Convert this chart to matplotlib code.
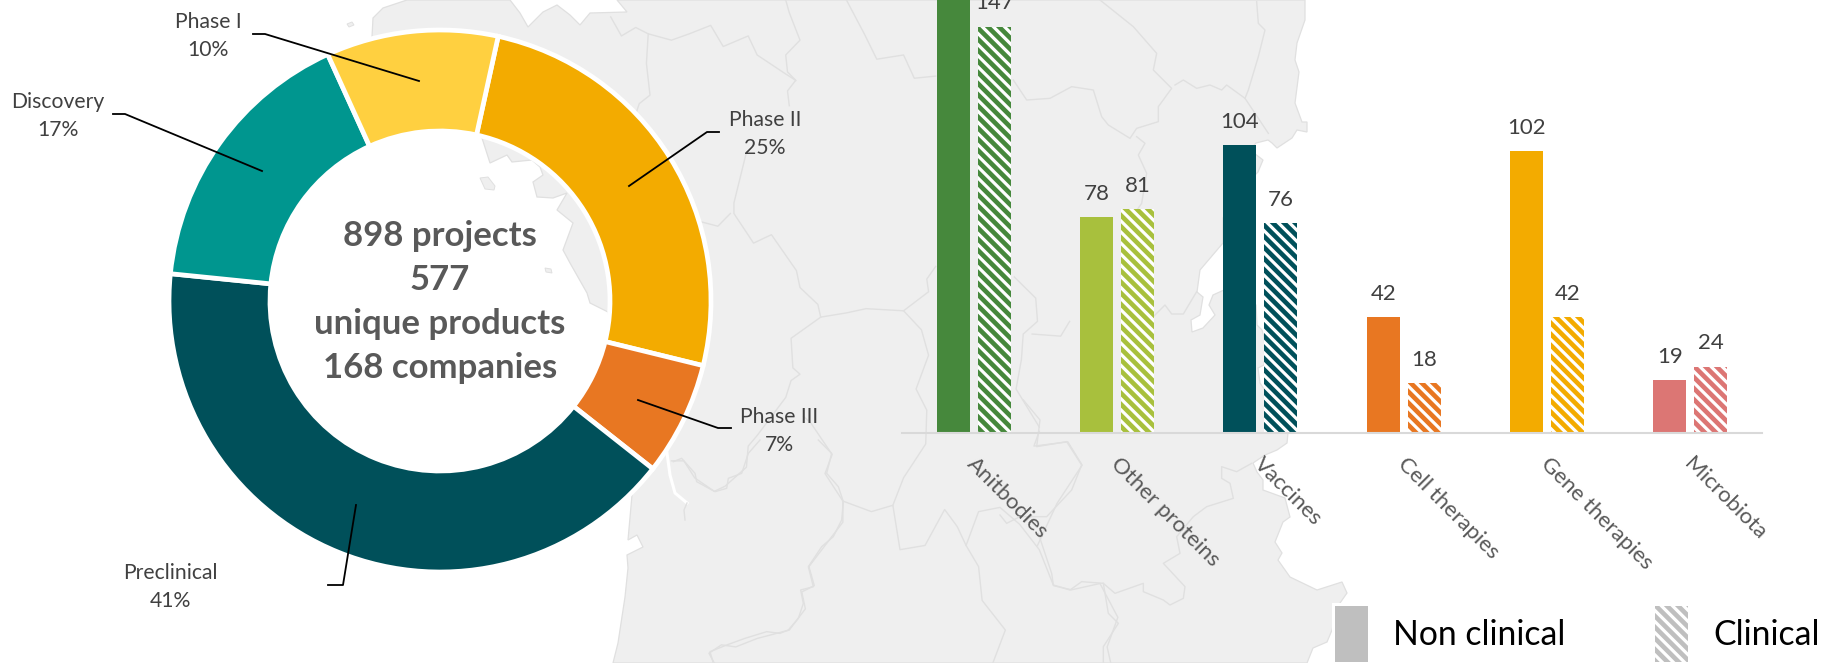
import matplotlib
matplotlib.use("Agg")
import matplotlib.pyplot as plt
from matplotlib.patches import Patch, Polygon
from matplotlib.transforms import ScaledTranslation

# ---------- data ----------
phases = ["Phase II", "Phase III", "Preclinical", "Discovery", "Phase I"]
project_counts = [228, 61, 368, 149, 92]
phase_colors = ["#F3AB00", "#E87722", "#00505A", "#00968F", "#FFD040"]

categories = ["Anitbodies", "Other proteins", "Vaccines", "Cell therapies", "Gene therapies", "Microbiota"]
non_clinical = [172, 78, 104, 42, 102, 19]   # first bar runs off the picture: height estimated
clinical = [147, 81, 76, 18, 42, 24]
category_colors = ["#46883C", "#A8C03D", "#00505A", "#E87722", "#F3AB00", "#DC7674"]
legend_labels = ["Non clinical", "Clinical"]
centre_text = "898 projects\n577\nunique products\n168 companies"

# ---------- page ----------
W, H = 1822, 663
plt.rcParams["font.family"] = ["Lato", "DejaVu Sans"]
plt.rcParams["hatch.linewidth"] = 2.3
fig = plt.figure(figsize=(W / 100, H / 100), dpi=100, facecolor="white")


def px_axes(left, top, right, bottom, **kw):
    return fig.add_axes([left / W, 1 - bottom / H, (right - left) / W, (bottom - top) / H], **kw)


# ---------- decorative map backdrop (pixel space) ----------
bg = px_axes(0, 0, W, H, zorder=0)
bg.set_xlim(0, W)
bg.set_ylim(H, 0)
bg.axis("off")
LAND = "#EFEFEF"
LINE = "#E0E0E0"
land_outline = [
    (372, 37), (373, 18), (383, 8), (407, 0), (510, 0), (520, 13), (528, 27), (543, 12), (557, 5), (570, 15),
    (580, 25), (590, 13), (627, 12), (617, 0), (1305, 0), (1305, 20), (1297, 43), (1295, 60), (1299, 72),
    (1295, 103), (1302, 122), (1307, 122), (1307, 132), (1297, 130), (1292, 138), (1277, 148), (1272, 143),
    (1268, 140), (1256, 143), (1250, 150), (1263, 160), (1258, 172), (1240, 190), (1223, 218), (1223, 243),
    (1200, 270), (1197, 292), (1203, 297), (1200, 315), (1191, 320), (1192, 332), (1203, 328), (1215, 315),
    (1209, 305), (1213, 295), (1224, 290), (1240, 300), (1256, 305), (1257, 325), (1262, 330), (1264, 337),
    (1266, 350), (1264, 365), (1258, 368), (1260, 383), (1266, 392), (1280, 415), (1288, 433), (1287, 443),
    (1277, 450), (1265, 455), (1253, 463), (1257, 472), (1263, 480), (1263, 490), (1285, 498), (1290, 517),
    (1283, 522), (1275, 542), (1282, 553), (1278, 560), (1290, 577), (1317, 590), (1342, 582), (1347, 593),
    (1340, 603), (1332, 630), (1327, 642), (1313, 648), (1307, 663), (613, 663), (618, 643), (625, 597),
    (628, 568), (627, 555), (643, 547), (637, 535), (628, 540), (632, 495), (640, 450), (625, 400), (608, 312),
    (590, 303), (587, 293), (570, 263), (563, 250), (573, 223), (557, 210), (567, 193), (553, 198), (537, 197),
    (533, 182), (543, 175), (540, 167), (532, 160), (512, 162), (507, 155), (490, 163), (482, 138), (440, 100),
]
bg.add_patch(Polygon(land_outline, closed=True, fc=LAND, ec=LINE, lw=0.9))
for isl in ([(480, 178), (488, 177), (495, 186), (494, 190), (485, 189)],
            [(545, 268), (551, 269), (552, 273), (546, 272)],
            [(347, 24), (352, 22), (354, 25), (349, 27)]):
    bg.add_patch(Polygon(isl, closed=True, fc=LAND, ec=LINE, lw=0.7))
bg.plot([667, 670, 675, 687], [453, 475, 493, 503], color="white", lw=2.2, zorder=3)
bg.plot([687, 684, 685], [503, 510, 520], color=LINE, lw=1, zorder=3)


def z10(p):
    return [(600 + x / 2.8, y / 2.365) for x, y in p]


def z3(x0, y0, p):
    return [(x0 + x / 3, y0 + y / 3) for x, y in p]


borders = [
    z10([(30, 40), (60, 85), (100, 65), (135, 80), (200, 95), (250, 80), (310, 60), (345, 110), (415, 85), (440, 130),
         (520, 175), (548, 190), (525, 215), (530, 250)]),
    z10([(520, 0), (530, 30), (560, 95), (520, 130), (525, 170), (548, 190)]),
    z10([(135, 80), (130, 150), (140, 225), (110, 245), (100, 270)]),
    z10([(410, 360), (375, 480), (375, 505), (430, 575), (480, 555), (550, 640), (560, 680), (610, 720), (618, 750),
         (690, 740), (745, 730), (850, 735), (920, 690), (915, 660), (940, 630)]),
    z10([(285, 525), (330, 535), (365, 505)]),
    z10([(618, 750), (535, 800), (540, 870), (560, 885), (535, 900), (520, 940), (440, 1030), (415, 1055), (410, 1105),
         (350, 1150), (320, 1162), (265, 1130), (235, 1090), (200, 1090)]),
    z10([(570, 985), (590, 1000), (650, 1075), (630, 1120), (680, 1185), (760, 1210), (820, 1195), (840, 1300),
         (910, 1290), (965, 1205), (1000, 1245), (1025, 1290), (1060, 1210), (1120, 1200), (1175, 1240), (1230, 1300),
         (1270, 1385), (1320, 1395), (1400, 1380), (1450, 1460), (1420, 1530), (1430, 1568)]),
    z10([(680, 1185), (680, 1235), (585, 1340), (600, 1385), (565, 1400), (575, 1440), (530, 1490), (440, 1510),
         (380, 1530), (340, 1525), (305, 1545), (320, 1568)]),
    z10([(850, 735), (900, 780), (920, 840), (885, 920), (915, 970), (912, 1050), (850, 1130), (820, 1195)]),
    z10([(1025, 1290), (1060, 1340), (1070, 1420), (1135, 1490), (1100, 1568)]),
    z10([(1230, 1020), (1215, 1055), (1310, 1045), (1350, 1100), (1280, 1190), (1225, 1290)]),
    z10([(1160, 655), (1220, 705), (1225, 760), (1185, 790), (1180, 850), (1165, 920), (1230, 1010)]),
    z10([(1315, 760), (1290, 795), (1210, 790)]),
    z10([(940, 180), (880, 185), (850, 130), (775, 140), (740, 80), (690, 0)]),
    z3(900, 0, [(600, 0), (700, 80), (770, 160), (760, 210), (815, 265), (775, 320), (775, 365), (710, 385),
                (690, 415), (625, 375), (605, 350), (580, 270), (515, 260), (450, 295), (380, 300), (340, 240)]),
    z3(900, 0, [(710, 410), (735, 430), (715, 465), (740, 520), (725, 610), (690, 660)]),
    z3(1150, 0, [(320, 5), (325, 70), (345, 90), (325, 170), (295, 270), (285, 295)]),
    z3(1150, 0, [(75, 255), (100, 240), (140, 265), (180, 255), (215, 270), (230, 255), (285, 295), (355, 400)]),
    z3(1150, 240, [(10, 230), (45, 195), (65, 222), (100, 222), (140, 155)]),
    z3(1000, 400, [(70, 0), (120, 60), (110, 140), (200, 125), (245, 195), (215, 270), (140, 350), (60, 350), (20, 370),
                   (0, 345)]),
    z3(1000, 400, [(115, 400), (155, 520), (160, 555), (210, 570), (245, 545), (310, 550), (345, 580), (430, 550),
                   (430, 575), (490, 600), (510, 615), (550, 595), (555, 560), (490, 490), (540, 460), (530, 410),
                   (580, 350), (620, 320), (700, 295), (690, 250), (665, 235), (665, 200), (710, 215), (755, 190)]),
    z3(1000, 400, [(310, 550), (325, 640), (355, 670), (310, 740), (310, 789)]),
    z3(560, 440, [(340, 65), (365, 55), (405, 100), (410, 125), (465, 155), (500, 145), (505, 115), (545, 100),
                  (565, 40), (600, 0)]),
    z3(560, 440, [(775, 0), (815, 40), (800, 100), (835, 140), (850, 185), (845, 240), (820, 290), (785, 320),
                  (745, 380), (760, 440), (722, 450), (730, 490), (715, 535), (685, 570), (660, 580), (620, 575),
                  (555, 595), (500, 615), (450, 635), (460, 669)]),
]
for line in borders:
    bg.plot([p[0] for p in line], [p[1] for p in line], color=LINE, lw=1.0, solid_joinstyle="round")

# ---------- doughnut ----------
CX, CY, R = 440, 301, 271
PAD = 1.03
don = px_axes(CX - R * PAD, CY - R * PAD, CX + R * PAD, CY + R * PAD, zorder=2)
don.patch.set_visible(False)
don.pie(project_counts, colors=phase_colors, startangle=77.6, counterclock=False, radius=1,
        wedgeprops=dict(width=(R - 170) / R, edgecolor="white", linewidth=3.4))
don.set_xlim(-PAD, PAD)
don.set_ylim(-PAD, PAD)
don.set_aspect("equal")
don.text(0, -0.005, centre_text, ha="center", va="center", fontsize=25, fontweight="bold",
         color="#595959", linespacing=1.46)

# ---------- bars ----------
ax = px_axes(902, 0, 1762, 433, zorder=2)
ax.patch.set_visible(False)
x = list(range(len(categories)))
bw, off = 0.23, 0.143
b1 = ax.bar([i - off for i in x], non_clinical, bw, color=category_colors, linewidth=0)
b2 = ax.bar([i + off for i in x], clinical, bw, color=category_colors, edgecolor="white", hatch="\\\\\\",
            linewidth=0)
ax.set_xlim(-0.5, 5.5)
ax.set_ylim(0, 433 / 2.765)
for s in ("top", "left", "right"):
    ax.spines[s].set_visible(False)
ax.spines["bottom"].set_color("#D9D9D9")
ax.spines["bottom"].set_linewidth(1.5)
ax.set_yticks([])
ax.set_xticks(x)
ax.set_xticklabels(categories, rotation=-45, ha="left", va="top", rotation_mode="anchor",
                   fontsize=16, color="#595959")
ax.tick_params(axis="x", length=0, pad=15)
nudge = ScaledTranslation(4 / 100, 0, fig.dpi_scale_trans)
for lab in ax.get_xticklabels():
    lab.set_transform(lab.get_transform() + nudge)
for bars, vals in ((b1, non_clinical), (b2, clinical)):
    for r, v in zip(bars, vals):
        if v <= 156 or bars is b2:
            ax.annotate(str(v), (r.get_x() + r.get_width() / 2, v), xytext=(0, 9.5), textcoords="offset points",
                        ha="center", va="bottom", fontsize=16, color="#404040", annotation_clip=False)

# ---------- callouts (pixel space) ----------
top = px_axes(0, 0, W, H, zorder=3)
top.set_xlim(0, W)
top.set_ylim(H, 0)
top.axis("off")
top.patch.set_visible(False)
total = sum(project_counts)
callouts = {
    "Phase I": ((208, 36), [(419, 81), (265, 34), (253, 34)]),
    "Discovery": ((58, 116), [(262, 171), (125, 114), (113, 114)]),
    "Phase II": ((765, 134), [(629, 186), (707, 132), (719, 132)]),
    "Phase III": ((779, 431), [(638, 400), (718, 428), (731, 428)]),
    "Preclinical": ((170, 587), [(356, 505), (343, 585), (328, 585)]),
}
for name, n in zip(phases, project_counts):
    (tx, ty), path = callouts[name]
    top.text(tx, ty, f"{name}\n{round(100 * n / total)}%", ha="center", va="center", fontsize=15.2,
             color="#404040", linespacing=1.52)
    top.plot([p[0] for p in path], [p[1] for p in path], color="black", lw=1.3, solid_joinstyle="round")

# ---------- legend ----------
handles = [Patch(facecolor="#BFBFBF", linewidth=0),
           Patch(facecolor="#BFBFBF", edgecolor="white", hatch="\\\\\\", linewidth=0)]
fs = 24.3
px = fs * 100 / 72
hh = (56 / px - 0.245) / 0.65
fig.legend(handles, legend_labels, loc="lower left", bbox_to_anchor=(1332 / W, -2 / H), ncol=2, fontsize=fs,
           frameon=True, facecolor="white", edgecolor="none", framealpha=1, fancybox=False,
           borderaxespad=0, borderpad=0.09, handlelength=33 / px, handleheight=hh,
           handletextpad=25 / px, columnspacing=90 / px, labelcolor="black")

fig.savefig("out.png", dpi=100)
